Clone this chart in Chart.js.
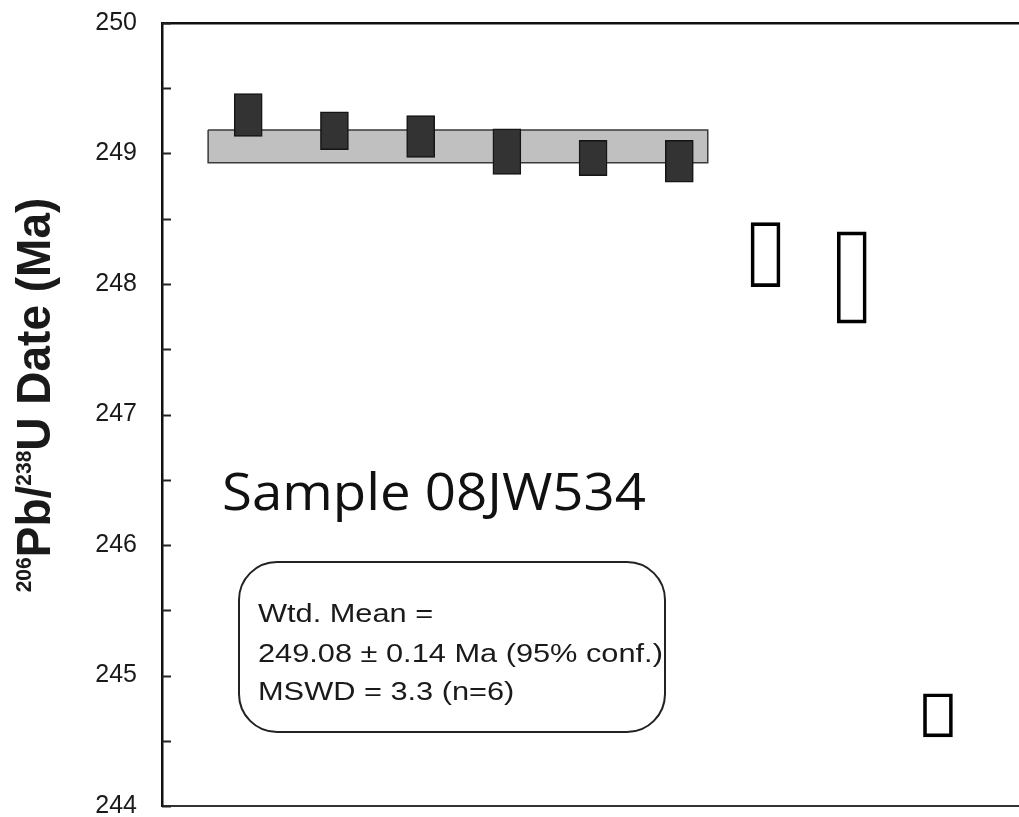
<!DOCTYPE html>
<html>
<head>
<meta charset="utf-8">
<script src="https://cdn.jsdelivr.net/npm/chart.js@4.4.1/dist/chart.umd.min.js"></script>
<style>
  body { margin: 0; background: #fff; }
  #wrap { width: 1019px; height: 817px; }
</style>
</head>
<body>
<div id="wrap"><canvas id="chart" width="1019" height="817"></canvas></div>
<script>
// analysis number along x, 206Pb/238U date ranges (2 sigma) in Ma
const meanAnalyses = [1, 2, 3, 4, 5, 6];
const meanHigh = [249.46, 249.32, 249.29, 249.19, 249.10, 249.10];
const meanLow = [249.13, 249.03, 248.97, 248.84, 248.83, 248.78];

const otherAnalyses = [7, 8, 9];
const otherHigh = [248.47, 248.40, 244.86];
const otherLow = [247.98, 247.70, 244.53];

// weighted mean band
const bandX = [0.535, 6.33];
const bandTop = 249.18;
const bandBottom = 248.93;

const yTicks = [244, 245, 246, 247, 248, 249, 250];
const sampleName = "Sample 08JW534";
const statsLines = ["Wtd. Mean =", "249.08 ± 0.14 Ma (95% conf.)", "MSWD = 3.3 (n=6)"];

const toBars = (xs, lows, highs) => xs.map((x, i) => ({ x, y: [lows[i], highs[i]] }));

const bandShape = [
  { x: bandX[0], y: bandTop },
  { x: bandX[1], y: bandTop },
  { x: bandX[1], y: bandBottom },
  { x: bandX[0], y: bandBottom },
  { x: bandX[0], y: bandTop },
];

const drawScaled = (ctx, text, x, y, sx, sy) => {
  ctx.save();
  ctx.translate(x, y);
  ctx.scale(sx, sy);
  ctx.fillText(text, 0, 0);
  ctx.restore();
};

const extras = {
  id: "extras",
  afterDraw(chart) {
    const { ctx } = chart;
    const y = chart.scales.y;
    const left = chart.chartArea.left;

    // inward ticks
    ctx.save();
    ctx.strokeStyle = "#222";
    ctx.lineWidth = 2;
    y.ticks.forEach((t) => {
      const py = Math.round(y.getPixelForValue(t.value)) + 0.5;
      ctx.beginPath();
      ctx.moveTo(left, py);
      ctx.lineTo(left + 9, py);
      ctx.stroke();
    });
    ctx.restore();

    // y axis title with superscripts
    ctx.save();
    ctx.fillStyle = "#1a1a1a";
    ctx.translate(50, 395);
    ctx.rotate(-Math.PI / 2);
    ctx.scale(1, 1.06);
    ctx.textBaseline = "alphabetic";
    const big = "bold 46px Arial, 'Liberation Sans', sans-serif";
    const small = "bold 21px Arial, 'Liberation Sans', sans-serif";
    const parts = [
      ["206", small, -18],
      ["Pb/", big, 0],
      ["238", small, -18],
      ["U Date (Ma)", big, 0],
    ];
    let total = 0;
    parts.forEach(([s, f]) => { ctx.font = f; total += ctx.measureText(s).width; });
    let cx = -total / 2;
    parts.forEach(([s, f, dy]) => {
      ctx.font = f;
      ctx.fillText(s, cx, dy);
      cx += ctx.measureText(s).width;
    });
    ctx.restore();

    // sample name
    ctx.save();
    ctx.fillStyle = "#111";
    ctx.font = "52px 'Open Sans', sans-serif";
    drawScaled(ctx, sampleName, 222, 510, 1.05, 1);
    ctx.restore();

    // stats box
    ctx.save();
    ctx.strokeStyle = "#222";
    ctx.lineWidth = 2;
    ctx.beginPath();
    ctx.roundRect(239, 562, 426, 170, 38);
    ctx.stroke();
    ctx.fillStyle = "#1a1a1a";
    ctx.font = "25px Arial, 'Liberation Sans', sans-serif";
    [622, 662, 700].forEach((by, i) => drawScaled(ctx, statsLines[i], 258, by, 1.23, 1));
    ctx.restore();
  },
};

new Chart(document.getElementById("chart"), {
  type: "bar",
  data: {
    datasets: [
      {
        data: toBars(meanAnalyses, meanLow, meanHigh),
        backgroundColor: "#333333",
        borderColor: "#151515",
        borderWidth: 1.5,
        borderSkipped: false,
        barThickness: 28,
        grouped: false,
        order: 0,
      },
      {
        data: toBars(otherAnalyses, otherLow, otherHigh),
        backgroundColor: "rgba(255,255,255,0)",
        borderColor: "#000",
        borderWidth: 3,
        borderSkipped: false,
        barThickness: 29,
        grouped: false,
        order: 0,
      },
      {
        type: "line",
        data: bandShape,
        backgroundColor: "#c0c0c0",
        borderColor: "#3a3a3a",
        borderWidth: 1.5,
        fill: "shape",
        pointRadius: 0,
        tension: 0,
        order: 2,
      },
    ],
  },
  options: {
    responsive: false,
    animation: false,
    layout: { padding: { top: 23, bottom: 11, left: 0, right: 0 } },
    plugins: { legend: { display: false }, tooltip: { enabled: false } },
    scales: {
      x: {
        type: "linear",
        min: 0,
        max: 9.94,
        offset: false,
        grid: { display: false, drawTicks: false },
        ticks: { display: false },
        border: { display: true, color: "#333", width: 2 },
      },
      x2: {
        type: "linear",
        position: "top",
        min: 0,
        max: 9.94,
        grid: { display: false, drawTicks: false },
        ticks: { display: false },
        border: { display: true, color: "#111", width: 2.5 },
      },
      y: {
        min: yTicks[0],
        max: yTicks[yTicks.length - 1],
        grid: { display: false, drawTicks: false },
        border: { display: true, color: "#111", width: 2.5 },
        ticks: {
          stepSize: 0.5,
          padding: 25,
          color: "#1a1a1a",
          font: { family: "Arial, 'Liberation Sans', sans-serif", size: 25, lineHeight: 1 },
          callback: (v) => (yTicks.includes(v) ? String(v) : ""),
        },
        afterFit: (scale) => {
          scale.width = 162;
          scale.paddingTop = 0;
          scale.paddingBottom = 0;
        },
      },
    },
  },
  plugins: [extras],
});
</script>
</body>
</html>
